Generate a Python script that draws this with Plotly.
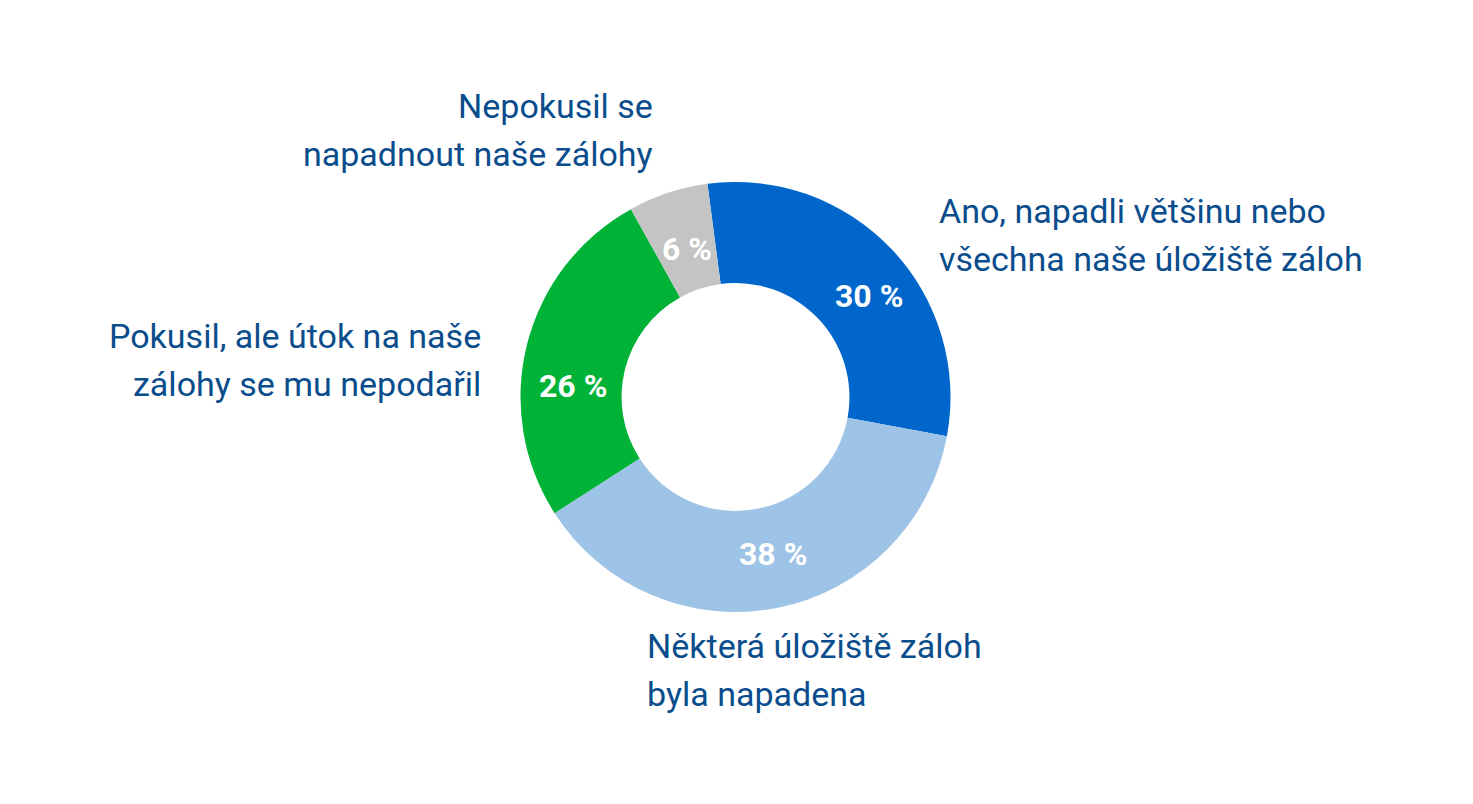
import plotly.graph_objects as go

categories = [
    "Ano, napadli většinu nebo všechna naše úložiště záloh",
    "Některá úložiště záloh byla napadena",
    "Pokusil, ale útok na naše zálohy se mu nepodařil",
    "Nepokusil se napadnout naše zálohy",
]
values = [30, 38, 26, 6]
colors = ["#0066CC", "#9DC3E6", "#00B336", "#C4C4C4"]

label_lines = [
    ["Ano, napadli většinu nebo", "všechna naše úložiště záloh"],
    ["Některá úložiště záloh", "byla napadena"],
    ["Pokusil, ale útok na naše", "zálohy se mu nepodařil"],
    ["Nepokusil se", "napadnout naše zálohy"],
]

W, H = 1473, 804
OFF = 8  # page body margin
cx, cy, R = 735.5 - OFF, 397 - OFF, 215

# label anchor (pixel, figure coords) of first line, alignment
label_pos = [(937, 211, "left"), (645, 646, "left"), (483, 336, "right"), (655, 106, "right")]
# percentage label centres (pixel)
pct_pos = [(868.5, 296), (772.5, 553.5), (572.5, 386.5), (687, 248.5)]

fig = go.Figure(go.Pie(
    labels=categories,
    values=values,
    marker=dict(colors=colors, line=dict(width=0)),
    hole=0.53,
    sort=False,
    direction="clockwise",
    rotation=-7.5,
    textinfo="none",
    showlegend=False,
    hoverinfo="label+value",
    domain=dict(x=[(cx - R) / W, (cx + R) / W], y=[(H - cy - R) / H, (H - cy + R) / H]),
))

line_gap = 48
for lines, (px, py, al) in zip(label_lines, label_pos):
    for i, t in enumerate(lines):
        fig.add_annotation(
            x=(px - OFF) / W, y=1 - (py - OFF + i * line_gap) / H, xref="paper", yref="paper",
            text=t, showarrow=False, xanchor=al, yanchor="middle",
            font=dict(family="Roboto", size=34, color="#0A4D8C"),
        )

for v, (px, py) in zip(values, pct_pos):
    fig.add_annotation(
        x=(px - OFF) / W, y=1 - (py - OFF) / H, xref="paper", yref="paper",
        text=f"<b>{v} %</b>", showarrow=False, xanchor="center", yanchor="middle",
        font=dict(family="Roboto", size=32, color="white"),
    )

fig.update_layout(
    width=W, height=H,
    margin=dict(l=0, r=0, t=0, b=0),
    paper_bgcolor="white", plot_bgcolor="white",
)

fig.write_html("out.html")
